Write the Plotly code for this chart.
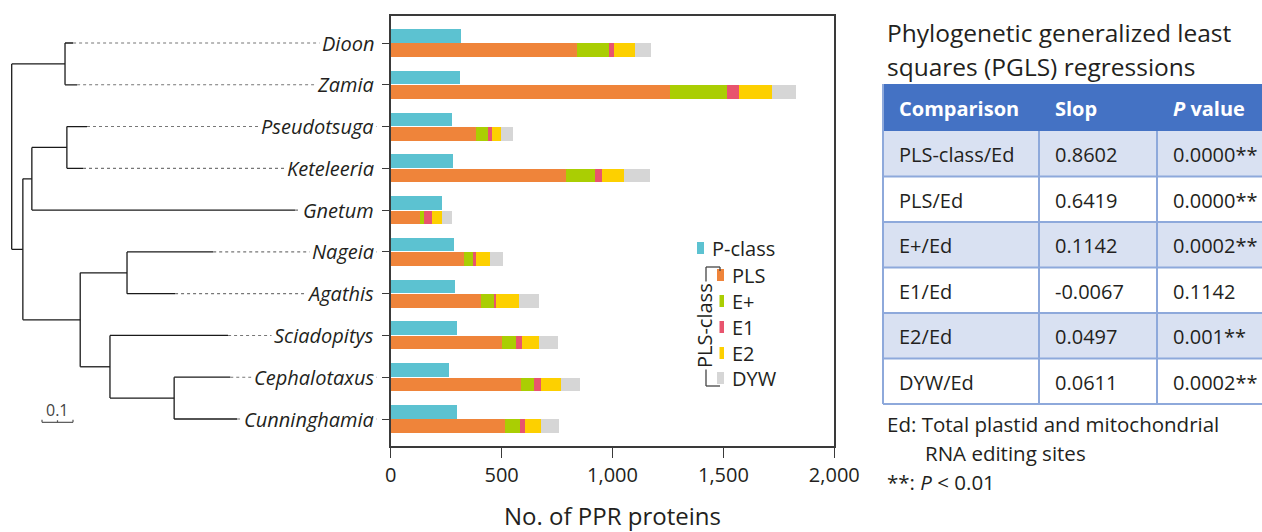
import plotly.graph_objects as go

# ---------------- data ----------------
taxa = ["Dioon", "Zamia", "Pseudotsuga", "Keteleeria", "Gnetum",
        "Nageia", "Agathis", "Sciadopitys", "Cephalotaxus", "Cunninghamia"]
p_class = [316, 311, 275, 280, 230, 284, 289, 298, 262, 298]
pls     = [840, 1260, 384, 790, 131, 330, 406, 501, 587, 515]
e_plus  = [144, 257, 54, 131, 18, 40, 59, 63, 59, 67]
e1      = [23, 50, 18, 32, 36, 14, 9, 27, 31, 23]
e2      = [95, 149, 41, 99, 45, 63, 104, 77, 91, 72]
dyw     = [72, 108, 54, 117, 45, 59, 90, 86, 85, 81]

# phylogeny: depth from root (branch-length units)
tip_depth = [0.198, 0.211, 0.243, 0.230, 0.914, 0.650, 0.527, 0.698, 0.705, 0.727]
# internal nodes: (name, child1, child2, depth)
inner_nodes = [
    ("A", "Dioon", "Zamia", 0.172),
    ("D", "Pseudotsuga", "Keteleeria", 0.178),
    ("C", "D", "Gnetum", 0.065),
    ("F", "Nageia", "Agathis", 0.372),
    ("H", "Cephalotaxus", "Cunninghamia", 0.524),
    ("G", "Sciadopitys", "H", 0.317),
    ("E", "F", "G", 0.221),
    ("B", "C", "E", 0.036),
    ("root", "A", "B", 0.0),
]
scale_bar_len = 0.1

# PGLS table
table_header = ["<b>Comparison</b>", "<b>Slop</b>", "<b><i>P</i> value</b>"]
comparisons = ["PLS-class/Ed", "PLS/Ed", "E+/Ed", "E1/Ed", "E2/Ed", "DYW/Ed"]
slopes = ["0.8602", "0.6419", "0.1142", "-0.0067", "0.0497", "0.0611"]
p_values = ["0.0000**", "0.0000**", "0.0002**", "0.1142", "0.001**", "0.0002**"]

series = [("PLS", pls, "#EF843A"), ("E+", e_plus, "#AACE03"),
          ("E1", e1, "#E8546E"), ("E2", e2, "#FDD000"), ("DYW", dyw, "#D6D6D6")]
P_COLOR = "#5CC2D1"

# ---------------- layout helpers ----------------
W, H = 1262, 532
FONT = "Open Sans"
TXT = "#231F20"

def px(x):
    return x / W

def py(y):
    return 1 - y / H

X_LEFT, X_RIGHT = 390.7, 834.3
Y_TOP, Y_BOT = 16, 446
ROOT_PX, UNIT_PX = 11.7, 310.0
LABEL_PX = 377

fig = go.Figure()

idx = list(range(len(taxa)))
off = 0.172
bw = 0.325

# P-class bars (above tick)
fig.add_trace(go.Bar(y=[i - off for i in idx], x=p_class, orientation="h",
                     width=bw, marker=dict(color=P_COLOR, line=dict(width=0)),
                     name="P-class", showlegend=False))
# PLS-class stacked bars (below tick)
for name, vals, col in series:
    fig.add_trace(go.Bar(y=[i + off for i in idx], x=vals, orientation="h",
                         width=bw, marker=dict(color=col, line=dict(width=0)),
                         name=name, showlegend=False))

# ---------------- tree ----------------
ypos = {t: i for i, t in enumerate(taxa)}
depth = {t: d for t, d in zip(taxa, tip_depth)}
for name, c1, c2, d in inner_nodes:
    ypos[name] = (ypos[c1] + ypos[c2]) / 2
    depth[name] = d

sx, sy = [], []
for name, c1, c2, d in inner_nodes:
    sx += [d, d, None]
    sy += [ypos[c1], ypos[c2], None]
    for c in (c1, c2):
        sx += [d, depth[c], None]
        sy += [ypos[c], ypos[c], None]

fig.add_trace(go.Scatter(x=sx, y=sy, mode="lines", xaxis="x2", yaxis="y",
                         line=dict(color="#1a1a1a", width=1.3),
                         hoverinfo="skip", showlegend=False))

label_x = (LABEL_PX - ROOT_PX) / UNIT_PX
dx, dy = [], []
for t in taxa:
    dx += [depth[t], label_x, None]
    dy += [ypos[t], ypos[t], None]
fig.add_trace(go.Scatter(x=dx, y=dy, mode="lines", xaxis="x2", yaxis="y",
                         line=dict(color="#777777", width=1.1, dash="3px,3px"),
                         hoverinfo="skip", showlegend=False))

# scale bar
sb_x0 = (42 - ROOT_PX) / UNIT_PX
sb_y = 9.08
fig.add_trace(go.Scatter(
    x=[sb_x0, sb_x0 + scale_bar_len, None, sb_x0, sb_x0, None,
       sb_x0 + scale_bar_len, sb_x0 + scale_bar_len, None,
       sb_x0 + scale_bar_len / 2, sb_x0 + scale_bar_len / 2],
    y=[sb_y, sb_y, None, sb_y, sb_y - 0.06, None, sb_y, sb_y - 0.06, None,
       sb_y, sb_y - 0.05],
    mode="lines", xaxis="x2", yaxis="y",
    line=dict(color="#555555", width=1.2), hoverinfo="skip", showlegend=False))

annotations = []
annotations.append(dict(x=sb_x0 + scale_bar_len / 2, y=sb_y + 0.02, xref="x2", yref="y",
                        text=str(scale_bar_len), showarrow=False, yanchor="bottom",
                        font=dict(family=FONT, size=16, color="#444444")))

for t in taxa:
    annotations.append(dict(x=label_x, y=ypos[t], xref="x2", yref="y",
                            text=f"<i>{t}</i>", showarrow=False, xanchor="right",
                            yanchor="middle", bgcolor="white", borderpad=2,
                            font=dict(family=FONT, size=20, color=TXT)))

# ---------------- custom legend ----------------
shapes = []
leg_items = [("P-class", P_COLOR, 697, 248)]
leg_rows = [275, 301, 327, 353, 378]
for (name, _, col), yy in zip(series, leg_rows):
    leg_items.append((name, col, 717, yy))
for name, col, x0, yc in leg_items:
    shapes.append(dict(type="rect", xref="paper", yref="paper",
                       x0=px(x0), x1=px(x0 + 7), y0=py(yc - 6), y1=py(yc + 6),
                       fillcolor=col, line=dict(width=0)))
    annotations.append(dict(x=px(x0 + 13), y=py(yc), xref="paper", yref="paper",
                            text=name, showarrow=False, xanchor="left", yanchor="middle",
                            font=dict(family=FONT, size=20, color=TXT)))
# bracket for PLS-class
br = dict(color="#444444", width=1.3)
shapes += [
    dict(type="line", xref="paper", yref="paper", x0=px(706), x1=px(706), y0=py(267), y1=py(386), line=br),
    dict(type="line", xref="paper", yref="paper", x0=px(706), x1=px(720), y0=py(267), y1=py(267), line=br),
    dict(type="line", xref="paper", yref="paper", x0=px(720), x1=px(720), y0=py(267), y1=py(271), line=br),
    dict(type="line", xref="paper", yref="paper", x0=px(706), x1=px(720), y0=py(386), y1=py(386), line=br),
]
annotations.append(dict(x=px(704), y=py(326), xref="paper", yref="paper",
                        text="PLS-class", textangle=-90, showarrow=False,
                        xanchor="center", yanchor="middle", bgcolor="white", borderpad=1,
                        font=dict(family=FONT, size=20, color=TXT)))

# ---------------- table (built from shapes + text) ----------------
col_edges = [883, 1039, 1157, W]
header_top, header_bot = 84, 131
row_h = (404 - header_bot) / len(comparisons)
grid = dict(color="#8EA9DB", width=2)
HEAD_FILL, ALT_FILL = "#4472C4", "#D9E1F2"

shapes.append(dict(type="rect", xref="paper", yref="paper", x0=px(col_edges[0]), x1=1,
                   y0=py(header_bot), y1=py(header_top), fillcolor=HEAD_FILL,
                   line=dict(width=0), layer="below"))
for r in range(len(comparisons)):
    y0 = header_bot + r * row_h
    fill = ALT_FILL if r % 2 == 0 else "white"
    shapes.append(dict(type="rect", xref="paper", yref="paper", x0=px(col_edges[0]), x1=1,
                       y0=py(y0 + row_h), y1=py(y0), fillcolor=fill,
                       line=dict(width=0), layer="below"))
# grid lines
for r in range(1, len(comparisons) + 1):
    yy = header_bot + r * row_h
    shapes.append(dict(type="line", xref="paper", yref="paper", x0=px(col_edges[0]), x1=1,
                       y0=py(yy), y1=py(yy), line=grid))
shapes.append(dict(type="line", xref="paper", yref="paper", x0=px(col_edges[0]), x1=px(col_edges[0]),
                   y0=py(404), y1=py(header_top), line=grid))
for ce in col_edges[1:-1]:
    shapes.append(dict(type="line", xref="paper", yref="paper", x0=px(ce), x1=px(ce),
                       y0=py(404), y1=py(header_bot), line=grid))

for c, htxt in enumerate(table_header):
    annotations.append(dict(x=px(col_edges[c] + 14), y=py((header_top + header_bot) / 2 + 1),
                            xref="paper", yref="paper", text=htxt, showarrow=False,
                            xanchor="left", yanchor="middle",
                            font=dict(family=FONT, size=20, color="white")))
for c, col_vals in enumerate([comparisons, slopes, p_values]):
    for r, v in enumerate(col_vals):
        yc = header_bot + (r + 0.5) * row_h + 1
        annotations.append(dict(x=px(col_edges[c] + 14), y=py(yc), xref="paper", yref="paper",
                                text=v, showarrow=False, xanchor="left", yanchor="middle",
                                font=dict(family=FONT, size=20, color=TXT)))

annotations += [
    dict(x=px(885), y=py(33), xref="paper", yref="paper", text="Phylogenetic generalized least",
         showarrow=False, xanchor="left", yanchor="middle", font=dict(family=FONT, size=24.5, color=TXT)),
    dict(x=px(885), y=py(67), xref="paper", yref="paper", text="squares (PGLS) regressions",
         showarrow=False, xanchor="left", yanchor="middle", font=dict(family=FONT, size=24.5, color=TXT)),
    dict(x=px(885), y=py(424), xref="paper", yref="paper", text="Ed: Total plastid and mitochondrial",
         showarrow=False, xanchor="left", yanchor="middle", font=dict(family=FONT, size=20.5, color=TXT)),
    dict(x=px(923), y=py(453), xref="paper", yref="paper", text="RNA editing sites",
         showarrow=False, xanchor="left", yanchor="middle", font=dict(family=FONT, size=20.5, color=TXT)),
    dict(x=px(885), y=py(482), xref="paper", yref="paper", text="**: <i>P</i> < 0.01",
         showarrow=False, xanchor="left", yanchor="middle", font=dict(family=FONT, size=20.5, color=TXT)),
]

axis_col = "#3a3a3a"
fig.update_layout(
    width=W, height=H, margin=dict(l=0, r=0, t=0, b=0, autoexpand=False),
    paper_bgcolor="white", plot_bgcolor="white",
    barmode="stack", bargap=0, showlegend=False,
    font=dict(family=FONT, color=TXT),
    xaxis=dict(domain=[px(X_LEFT), px(X_RIGHT)], range=[0, 2000], automargin=False,
               tickvals=[0, 500, 1000, 1500, 2000], tickformat=",d",
               ticks="outside", ticklen=10, tickwidth=1.3, tickcolor=axis_col,
               showline=True, linecolor=axis_col, linewidth=1.5, mirror=True,
               showgrid=False, zeroline=False,
               tickfont=dict(family=FONT, size=20, color=TXT),
               title=dict(text="No. of PPR proteins", standoff=22,
                          font=dict(family=FONT, size=24, color=TXT))),
    yaxis=dict(domain=[py(Y_BOT), py(Y_TOP)], automargin=False,
               range=[9 + (Y_BOT - 419) / 41.78, -(43 - Y_TOP) / 41.78],
               tickvals=idx, showticklabels=False,
               ticks="outside", ticklen=7, tickwidth=1.3, tickcolor=axis_col,
               showline=True, linecolor=axis_col, linewidth=1.5, mirror=True,
               showgrid=False, zeroline=False),
    xaxis2=dict(domain=[0, px(X_LEFT)], anchor="y", automargin=False,
                range=[-ROOT_PX / UNIT_PX, (X_LEFT - ROOT_PX) / UNIT_PX],
                visible=False, showgrid=False, zeroline=False),
    shapes=shapes, annotations=annotations,
)

fig.write_html("out.html")
